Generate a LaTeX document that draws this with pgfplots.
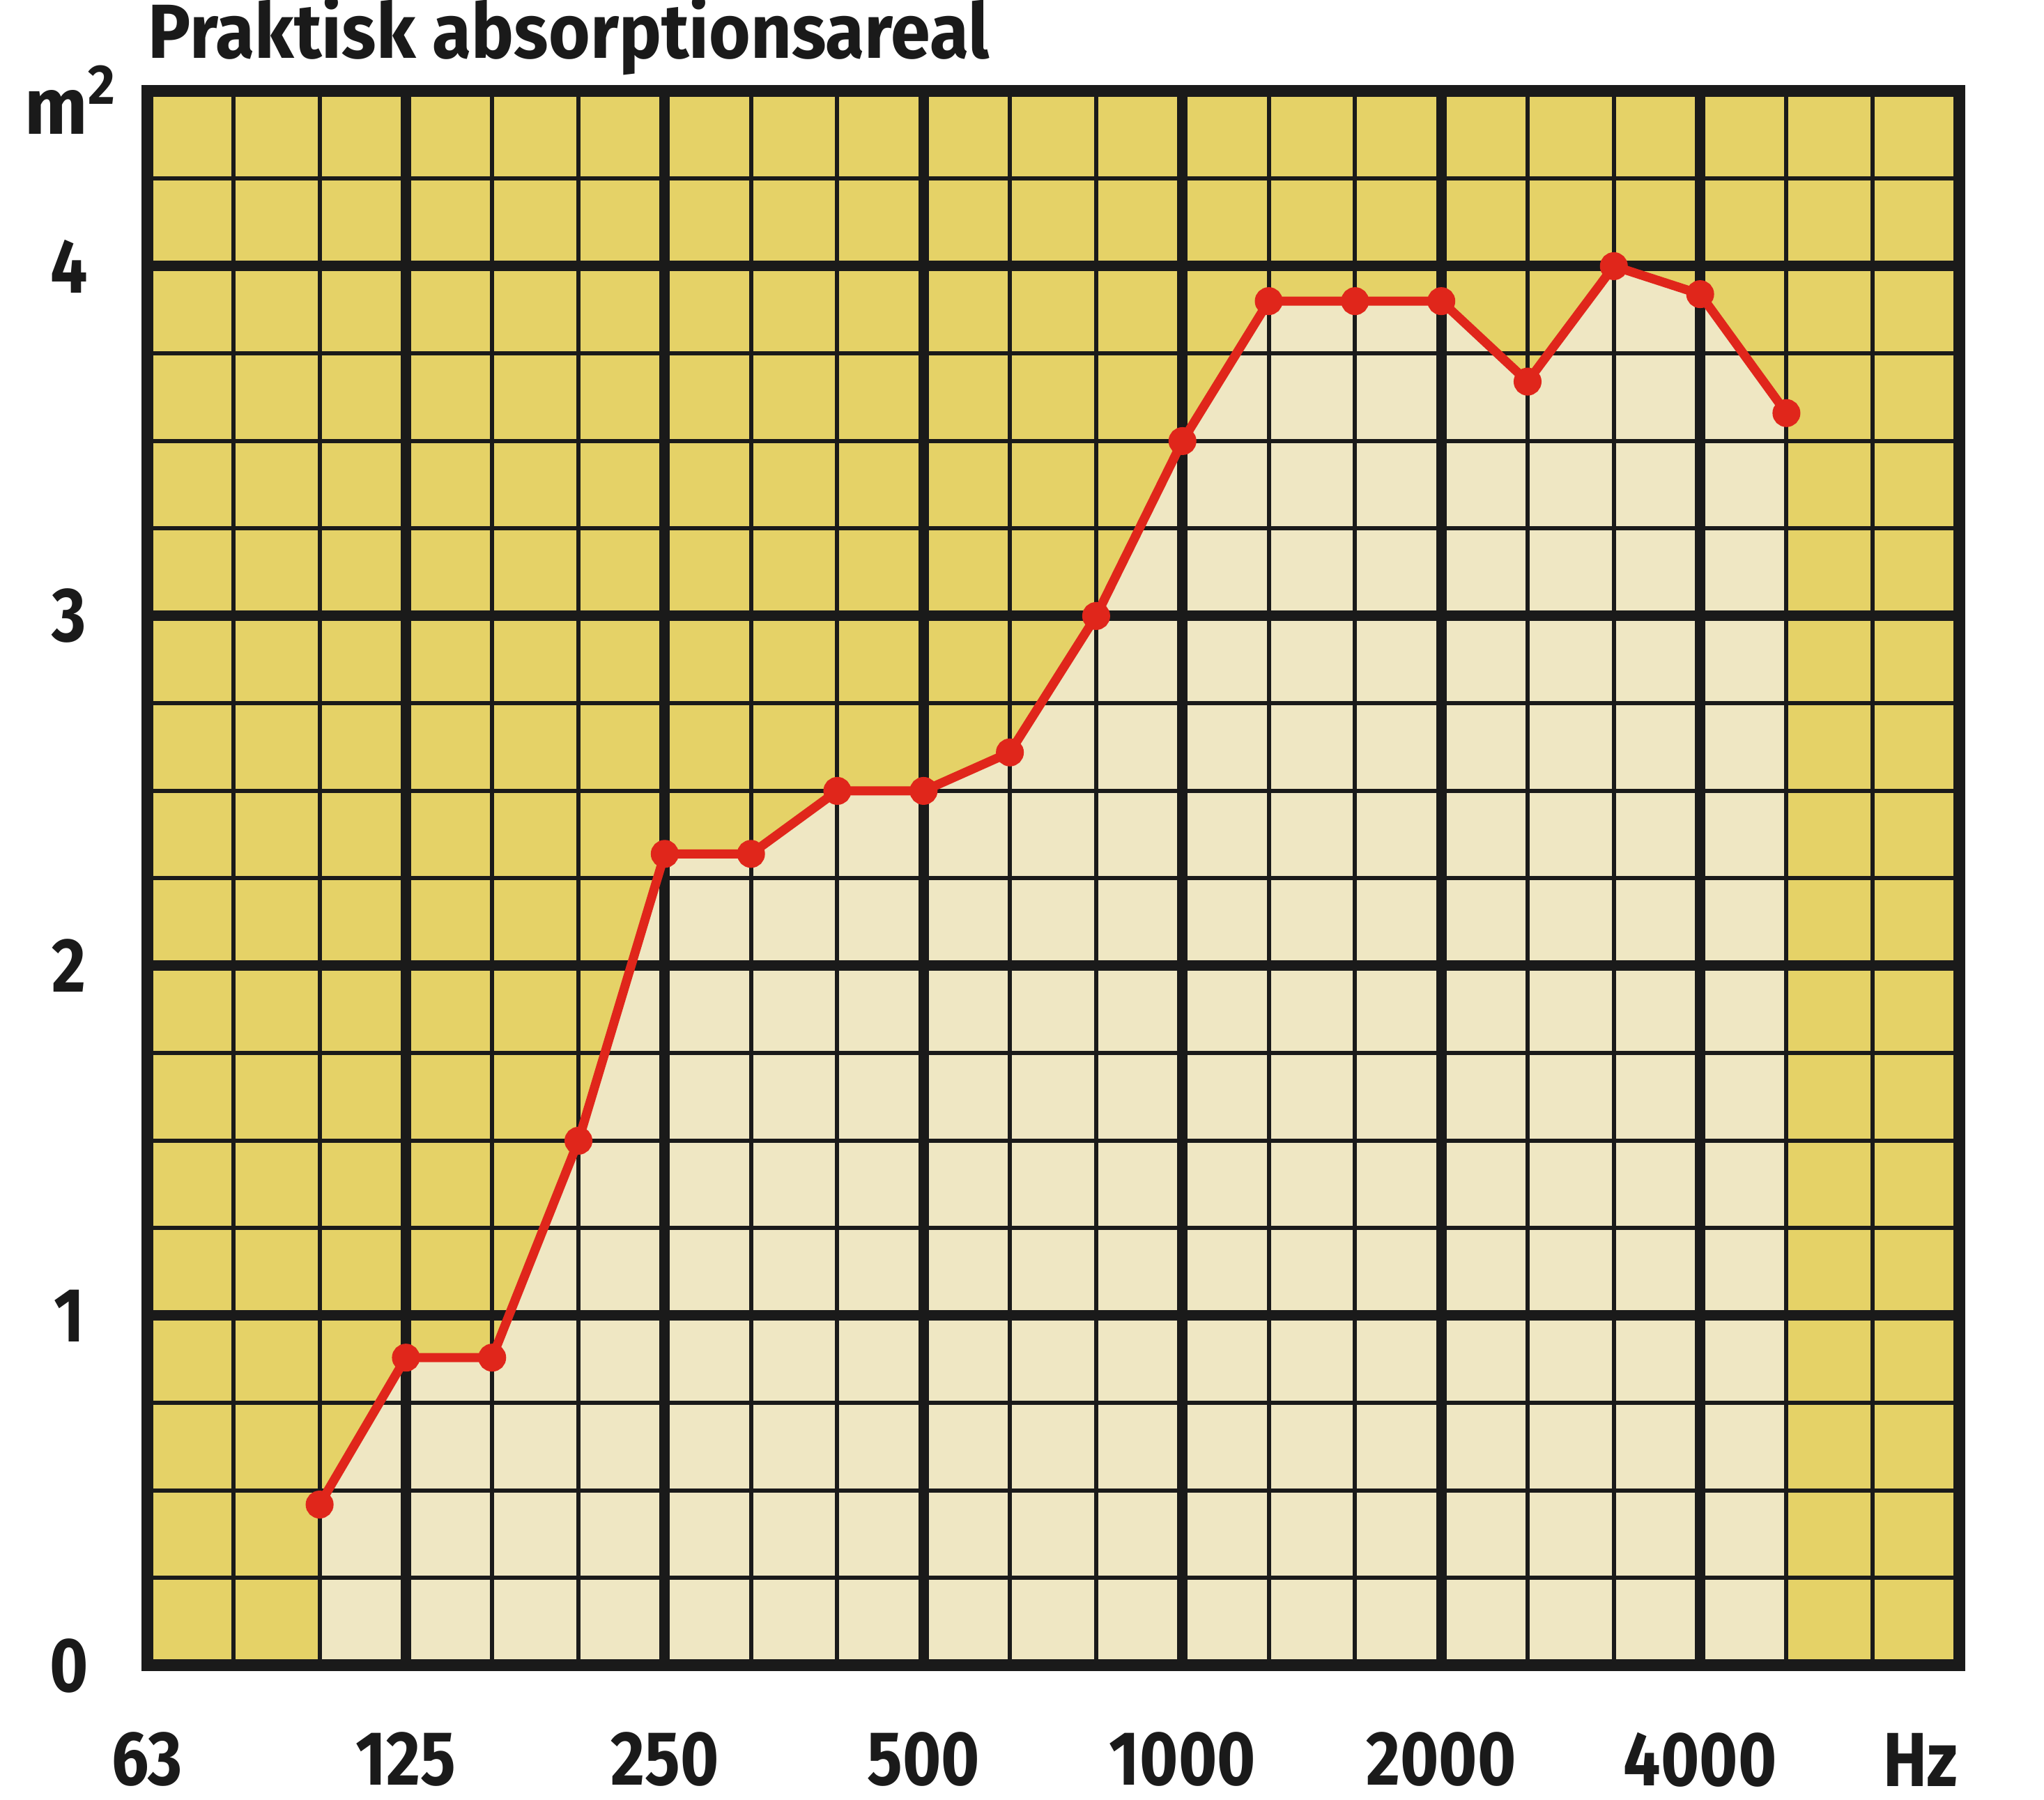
\documentclass[border=0pt]{standalone}
\usepackage{fontspec}
\setmainfont{Fira Sans}[FakeStretch=0.86]
\newfontfamily\titlefont{Fira Sans}[FakeStretch=0.93]
\usepackage{pgfplots}
\pgfplotsset{compat=1.18}
\definecolor{darkyel}{HTML}{E5D267}
\definecolor{cream}{HTML}{EFE7C3}
\definecolor{redline}{HTML}{E0261B}
\definecolor{gridblack}{HTML}{1A1A1A}
\begin{document}
\begin{tikzpicture}
\begin{axis}[
  set layers=standard,
  width=260pt, height=225.9pt, scale only axis,
  xmin=0, xmax=21, ymin=0, ymax=4.5,
  xtick={0,3,6,9,12,15,18},
  xticklabels={63,125,250,500,1000,2000,4000},
  ytick={0,1,2,3,4},
  minor xtick={0,1,...,21},
  minor ytick={0,0.25,...,4.5},
  major tick length=0pt, minor tick length=0pt,
  grid=both,
  major grid style={line width=1.5pt, gridblack},
  minor grid style={line width=0.6pt, gridblack},
  axis line style={line width=1.7pt, gridblack},
  axis background/.style={fill=darkyel},
  /pgf/number format/assume math mode=true,
  tick label style={font=\bfseries\fontsize{11}{13}\selectfont, text=gridblack},
  xticklabel style={anchor=center, yshift=-13.5pt},
  yticklabel style={anchor=center, xshift=-11.2pt},
  clip=false,
]
\addplot[fill=cream, draw=none, on layer=axis background] table {
x y
2 0.46
3 0.88
4 0.88
5 1.50
6 2.32
7 2.32
8 2.50
9 2.50
10 2.61
11 3.00
12 3.50
13 3.90
14 3.90
15 3.90
16 3.67
17 4.00
18 3.92
19 3.58
} \closedcycle;
\addplot[redline, line width=1.3pt, mark=*, mark size=1.35pt, mark options={fill=redline, draw=redline}] table {
x y
2 0.46
3 0.88
4 0.88
5 1.50
6 2.32
7 2.32
8 2.50
9 2.50
10 2.61
11 3.00
12 3.50
13 3.90
14 3.90
15 3.90
16 3.67
17 4.00
18 3.92
19 3.58
};
\node[anchor=base west, inner sep=0pt, font=\titlefont\bfseries\fontsize{11}{13}\selectfont, text=gridblack] at (rel axis cs:0,1) [yshift=4.7pt] {Praktisk absorptionsareal};
\node[anchor=base west, inner sep=0pt, font=\titlefont\bfseries\fontsize{11.5}{13}\selectfont, text=gridblack] at (rel axis cs:0,1) [xshift=-17.7pt, yshift=-6.2pt] {m\textsuperscript{2}};
\node[anchor=east, inner sep=0pt, font=\bfseries\fontsize{11}{13}\selectfont, text=gridblack] at (rel axis cs:1,0) [yshift=-13.5pt] {Hz};
\end{axis}
\pgfresetboundingbox
\path ([xshift=-21.1pt,yshift=-19.3pt]current axis.south west) rectangle ([xshift=12.2pt,yshift=13.1pt]current axis.north east);
\end{tikzpicture}
\end{document}
